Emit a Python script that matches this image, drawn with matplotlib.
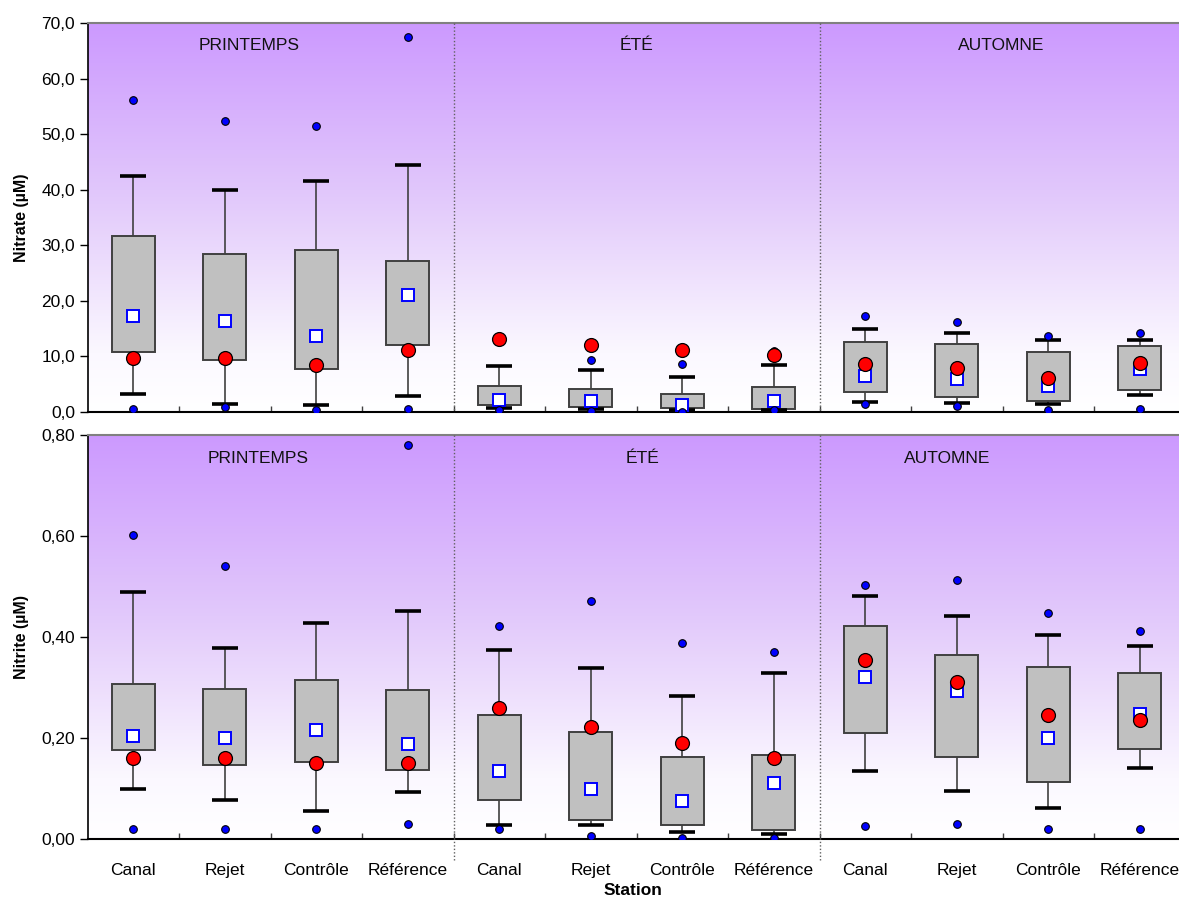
import numpy as np
import matplotlib
matplotlib.use("Agg")
import matplotlib.pyplot as plt
from matplotlib.colors import LinearSegmentedColormap
from matplotlib.ticker import FuncFormatter

plt.rcParams['font.family'] = ['Liberation Sans', 'DejaVu Sans']

stations = ["Canal", "Rejet", "Contrôle", "Référence"] * 3
seasons = ["PRINTEMPS", "ÉTÉ", "AUTOMNE"]
nan = np.nan

# ---- Nitrate (µM) ----
no3_whisk_high = [42.5, 39.9, 41.5, 44.5, 8.2, 7.55, 6.35, 8.4, 15.0, 14.3, 12.95, 12.95]
no3_q3 = [31.7, 28.4, 29.2, 27.1, 4.7, 4.07, 3.3, 4.43, 12.65, 12.2, 10.85, 11.9]
no3_q1 = [10.85, 9.3, 7.7, 12.0, 1.3, 0.9, 0.65, 0.54, 3.6, 2.7, 1.98, 4.0]
no3_whisk_low = [3.24, 1.44, 1.2, 2.8, 0.77, 0.47, 0.3, 0.3, 1.85, 1.6, 1.37, 3.0]
no3_dot_high = [56.2, 52.4, 51.5, 67.5, nan, 9.35, 8.6, 10.9, 17.3, 16.2, 13.7, 14.15]
no3_dot_low = [0.54, 0.95, 0.3, 0.54, 0.3, 0.23, 0.0, 0.3, 1.44, 1.13, 0.3, 0.54]
no3_square = [17.3, 16.4, 13.7, 21.1, 2.15, 1.9, 1.3, 1.9, 6.4, 6.0, 4.6, 7.8]
no3_circle = [9.8, 9.8, 8.45, 11.2, 13.2, 12.1, 11.15, 10.3, 8.57, 8.0, 6.2, 8.75]

# ---- Nitrite (µM) ----
no2_whisk_high = [0.489, 0.379, 0.427, 0.452, 0.375, 0.339, 0.283, 0.329, 0.482, 0.442, 0.404, 0.382]
no2_q3 = [0.306, 0.298, 0.314, 0.296, 0.246, 0.211, 0.163, 0.166, 0.422, 0.365, 0.341, 0.328]
no2_q1 = [0.176, 0.147, 0.152, 0.137, 0.077, 0.038, 0.027, 0.017, 0.209, 0.162, 0.112, 0.179]
no2_whisk_low = [0.100, 0.078, 0.055, 0.093, 0.028, 0.028, 0.013, 0.010, 0.135, 0.096, 0.061, 0.140]
no2_dot_high = [0.601, 0.541, nan, 0.781, 0.422, 0.471, 0.389, 0.370, 0.502, 0.512, 0.447, 0.412]
no2_dot_low = [0.020, 0.020, 0.020, 0.030, 0.020, 0.006, 0.001, 0.001, 0.026, 0.030, 0.020, 0.020]
no2_square = [0.203, 0.200, 0.215, 0.188, 0.135, 0.100, 0.076, 0.110, 0.320, 0.293, 0.200, 0.247]
no2_circle = [0.160, 0.160, 0.150, 0.150, 0.260, 0.221, 0.190, 0.160, 0.355, 0.310, 0.246, 0.236]

W, H = 1179, 897
fig = plt.figure(figsize=(W / 100, H / 100), dpi=100)

bg_cmap = LinearSegmentedColormap.from_list(
    "bg", [(0.0, "#ffffff"), (0.15, "#fbf8ff"), (0.55, "#e2c9fb"), (1.0, "#cc99ff")])

x = np.arange(1, 13)
XMAX = 0.5 + (W - 87.5) / 91.5
BOX_W = 0.47
CAP_W = 0.28


def draw_panel(ax, ymax, whisk_high, q3, q1, whisk_low, dot_high, dot_low, square, circle,
               ylabel, fmt, label_x, show_xlabels):
    ax.set_xlim(0.5, XMAX)
    ax.set_ylim(0, ymax)
    grad = np.linspace(0, 1, 256).reshape(-1, 1)
    ax.imshow(grad, aspect="auto", cmap=bg_cmap, origin="lower",
              extent=(0.5, XMAX, 0, ymax), zorder=0)

    for xi, lo, hi in zip(x, q1, q3):
        ax.add_patch(plt.Rectangle((xi - BOX_W / 2, lo), BOX_W, hi - lo,
                                   facecolor="#c0c0c0", edgecolor="#404040", lw=1.4, zorder=2))
    ax.vlines(x, q3, whisk_high, color="#404040", lw=1.2, zorder=1.5)
    ax.vlines(x, whisk_low, q1, color="#404040", lw=1.2, zorder=1.5)
    ax.hlines(whisk_high, x - CAP_W / 2, x + CAP_W / 2, color="black", lw=2.6, zorder=3)
    ax.hlines(whisk_low, x - CAP_W / 2, x + CAP_W / 2, color="black", lw=2.6, zorder=3)

    ax.plot(x, square, ls="none", marker="s", ms=9, mfc="white", mec="#0000ff", mew=1.4, zorder=4)
    ax.plot(x, dot_high, ls="none", marker="o", ms=5.5, mfc="#0000ff", mec="black", mew=0.8, zorder=5)
    ax.plot(x, dot_low, ls="none", marker="o", ms=5.5, mfc="#0000ff", mec="black", mew=0.8, zorder=5)
    ax.plot(x, circle, ls="none", marker="o", ms=10, mfc="#ff0000", mec="black", mew=0.9, zorder=6)

    for sx in (4.5, 8.5):
        ax.plot([sx, sx], [ymax, -0.053 * ymax if show_xlabels else 0], color="#606060",
                ls=(0, (1, 1.5)), lw=1.0, clip_on=False, zorder=7)

    for name, lx in zip(seasons, label_x):
        ax.text(lx, 0.942, name, transform=ax.get_xaxis_transform(),
                ha="center", va="center", fontsize=12.5, color="#111111", zorder=8)

    ax.set_yticks(np.linspace(0, ymax, 8 if ymax > 1 else 5))
    ax.yaxis.set_major_formatter(FuncFormatter(fmt))
    ax.tick_params(axis="y", direction="out", length=6, width=1, labelsize=12.5, pad=3)
    ax.set_ylabel(ylabel, fontsize=11.5, fontweight="bold")

    ax.set_xticks(x)
    ax.set_xticks(np.arange(1.5, 12.5, 1), minor=True)
    ax.tick_params(axis="x", which="major", length=0, labelsize=12.5, pad=17)
    ax.tick_params(axis="x", which="minor", direction="in", length=4, width=1, color="#404040")
    if show_xlabels:
        ax.set_xticklabels(stations)
    else:
        ax.set_xticklabels([])

    ax.spines["right"].set_visible(False)
    ax.spines["top"].set_color("#808080")
    ax.spines["top"].set_linewidth(1.5)
    ax.spines["left"].set_color("black")
    ax.spines["bottom"].set_color("black")
    ax.spines["left"].set_linewidth(1.2)
    ax.spines["bottom"].set_linewidth(1.5)


L = 87.5 / W
ax1 = fig.add_axes([L, 1 - 412 / H, 1 - L, (412 - 23) / H])
ax2 = fig.add_axes([L, 1 - 839 / H, 1 - L, (839 - 435) / H])

draw_panel(ax1, 70, no3_whisk_high, no3_q3, no3_q1, no3_whisk_low, no3_dot_high, no3_dot_low,
           no3_square, no3_circle, "Nitrate (µM)",
           lambda v, p: f"{v:.1f}".replace(".", ","), (2.27, 6.5, 10.49), False)
draw_panel(ax2, 0.8, no2_whisk_high, no2_q3, no2_q1, no2_whisk_low, no2_dot_high, no2_dot_low,
           no2_square, no2_circle, "Nitrite (µM)",
           lambda v, p: f"{v:.2f}".replace(".", ","), (2.37, 6.57, 9.9), True)
ax2.set_xlabel("Station", fontsize=12.5, fontweight="bold", labelpad=4)
ax1.yaxis.set_label_coords(-0.054, 0.5)
ax2.yaxis.set_label_coords(-0.054, 0.5)

fig.savefig("out.png", dpi=100)
